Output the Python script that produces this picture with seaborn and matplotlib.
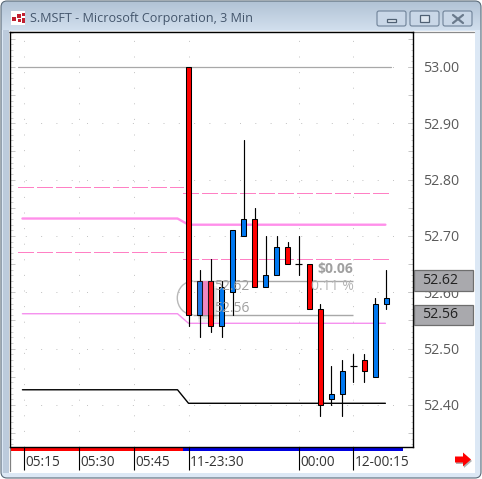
import numpy as np
import pandas as pd
import seaborn as sns
import matplotlib
matplotlib.use("Agg")
import matplotlib.pyplot as plt
from matplotlib.patches import Rectangle, FancyBboxPatch, Arc, Polygon
from matplotlib.ticker import MultipleLocator, FuncFormatter
from matplotlib.transforms import blended_transform_factory, ScaledTranslation

# ---------- data ----------
opens  = [53.00, 52.56, 52.62, 52.54, 52.60, 52.70, 52.73, 52.61, 52.63, 52.68, 52.65, 52.65, 52.57, 52.41, 52.42, 52.47, 52.48, 52.45, 52.58]
closes = [52.56, 52.62, 52.54, 52.61, 52.71, 52.73, 52.61, 52.63, 52.68, 52.65, 52.65, 52.57, 52.40, 52.42, 52.46, 52.47, 52.46, 52.58, 52.59]
highs  = [53.00, 52.64, 52.66, 52.62, 52.71, 52.87, 52.75, 52.70, 52.70, 52.69, 52.70, 52.65, 52.58, 52.47, 52.48, 52.49, 52.49, 52.59, 52.64]
lows   = [52.54, 52.52, 52.53, 52.52, 52.56, 52.70, 52.61, 52.61, 52.63, 52.65, 52.63, 52.57, 52.38, 52.40, 52.38, 52.44, 52.44, 52.45, 52.57]
bars = list(range(len(opens)))

tick_bars = [-15, -10, -5, 0, 10, 15]
tick_labels = ["05:15", "05:30", "05:45", "11-23:30", "00:00", "12-00:15"]

level_gray_x = [-15.5, 18.4];            level_gray_y = [53.00, 53.00]
dash_hi_l_x = [-15.5, -0.5];             dash_hi_l_y = [52.787, 52.787]
dash_hi_r_x = [-0.5, 18.4];              dash_hi_r_y = [52.777, 52.777]
dash_lo_l_x = [-15.5, -0.5];             dash_lo_l_y = [52.672, 52.672]
dash_lo_r_x = [-0.5, 18.4];              dash_lo_r_y = [52.659, 52.659]
upper_x = [-15.1, -1, 0, 17.9];          upper_y = [52.731, 52.731, 52.720, 52.720]
lower_x = [-15.1, -1, 0, 17.9];          lower_y = [52.562, 52.562, 52.545, 52.545]
black_x = [-15.1, -1, 0, 17.9];          black_y = [52.427, 52.427, 52.403, 52.403]

last_high, last_low = 52.62, 52.56
diff_label, pct_label = "$0.06", "0.11 %"

# ---------- figure ----------
sns.set_theme(style="white")
plt.rcParams["font.family"] = ["Open Sans", "DejaVu Sans"]
W, H = 482, 479
fig = plt.figure(figsize=(W / 100, H / 100), dpi=100, facecolor="white")

# window chrome, in pixel coordinates
bg = fig.add_axes([0, 0, 1, 1], zorder=-1)
bg.set_xlim(0, W); bg.set_ylim(H, 0); bg.axis("off")
frame = FancyBboxPatch((1, 1), W - 2, H - 2, boxstyle="round,pad=0,rounding_size=6",
                       fc="none", ec="#5a6a78", lw=0.8, zorder=3)
bg.add_patch(frame)
grad = np.ones((H, 1, 3))
top = np.array([0xb0, 0xc2, 0xd4]) / 255
mid = np.array([0xd2, 0xdf, 0xee]) / 255
low = np.array([0xdc, 0xe8, 0xf5]) / 255
for r in range(H):
    grad[r, 0] = top + (mid - top) * r / 30 if r < 30 else low
im = bg.imshow(grad, extent=(0, W, H, 0), aspect="auto", zorder=1)
im.set_clip_path(frame)
bg.set_xlim(0, W); bg.set_ylim(H, 0)
bg.add_patch(Rectangle((3, 30), 5.5, 443, fc="#bccbdc", ec="none", zorder=1.5))
bg.add_patch(Rectangle((8.5, 31), 466, 442, fc="white", ec="none", zorder=2))
bg.plot([9, 474], [31.5, 31.5], color="#8a8a8a", lw=0.9, zorder=2.5)
bg.plot([9.5, 9.5], [447, 471], color="#808080", lw=0.9, zorder=2.5)

# icon
bg.add_patch(Rectangle((11, 11), 14, 14, fc="white", ec="none", zorder=3))
for ix, iy, iw, ih in [(12, 17, 4, 4), (17, 14, 4, 4), (22, 13, 3, 3), (18, 19, 3, 3), (22, 18, 3, 5)]:
    bg.add_patch(Rectangle((ix, iy), iw, ih, fc="#c02030", ec="none", zorder=4))
bg.text(30, 18.5, "S.MSFT - Microsoft Corporation, 3 Min", fontsize=9.1, color="#44566c",
        va="center", ha="left", zorder=4)

# window buttons
for bx in (377, 410, 443):
    bg.add_patch(FancyBboxPatch((bx, 11), 29, 15, boxstyle="round,pad=0,rounding_size=2",
                                fc="#c9d7e7", ec="#6f8298", lw=0.8, zorder=3))
bg.add_patch(Rectangle((387, 19), 9, 3, fc="#dfe7f0", ec="#4f6073", lw=0.9, zorder=4))
bg.add_patch(Rectangle((420, 15), 9, 7, fc="#dfe7f0", ec="#4f6073", lw=0.9, zorder=4))
bg.plot([453, 463], [15, 23], color="#6a7a8c", lw=1.6, zorder=4)
bg.plot([453, 463], [23, 15], color="#6a7a8c", lw=1.6, zorder=4)

# session strip below the chart
bg.add_patch(Rectangle((11, 447.5), 172, 3, fc="#ff0000", ec="none", zorder=3))
bg.add_patch(Rectangle((183, 447.5), 219.5, 3, fc="#0000e0", ec="none", zorder=3))

# scroll arrow
arrow = [(455, 456.5), (463, 456.5), (463, 452.5), (471, 459.5), (463, 466.5), (463, 462.5), (455, 462.5)]
bg.add_patch(Polygon([(a + 1, b + 1.5) for a, b in arrow], fc="#b0b0b0", ec="none", zorder=3))
bg.add_patch(Polygon(arrow, fc="#ff0000", ec="none", zorder=4))

# chart axes
ax = fig.add_axes([10 / W, 1 - 447 / H, 403 / W, 415 / H], facecolor="white")
ax.set_ylim(52.3254, 53.0621)
ax.set_xlim(-16.23, 20.41)
for s in ax.spines.values():
    s.set_color("black"); s.set_linewidth(1.0); s.set_visible(True)

# dotted grid
DOT = "#c4c4c4"
ax.hlines(np.arange(52.4, 53.01, 0.1), -16.23, 20.41, color=DOT, lw=0.72,
          linestyles=[(0, (1, 14.3))], zorder=0.5)
ax.vlines(tick_bars, 52.3254, 53.0621, color=DOT, lw=0.72,
          linestyles=[(0, (1, 14.6))], zorder=0.5)

# level lines
def level(x, y, color, lw, dashes=None):
    d = pd.DataFrame({"bar": x, "price": y})
    line = sns.lineplot(data=d, x="bar", y="price", ax=ax, color=color, linewidth=lw,
                        estimator=None, sort=False, legend=False, zorder=2).lines[-1]
    if dashes:
        line.set_linestyle((0, dashes))
        line.set_antialiased(False)

PINK = "#ff80c4"
level(level_gray_x, level_gray_y, "#a8a8a8", 0.9)
level(dash_hi_l_x, dash_hi_l_y, PINK, 0.8, (14, 3.2))
level(dash_hi_r_x, dash_hi_r_y, PINK, 0.8, (14, 3.2))
level(dash_lo_l_x, dash_lo_l_y, PINK, 0.8, (14, 3.2))
level(dash_lo_r_x, dash_lo_r_y, PINK, 0.8, (14, 3.2))
level(upper_x, upper_y, "#ff8fea", 1.7)
level(lower_x, lower_y, "#f590ee", 1.0)
level(black_x, black_y, "black", 1.0)

# measurement annotation
GRAY = "#a8a8a8"
ax.hlines([last_high, last_low], 0.43, 15.0, color=GRAY, lw=1.0, zorder=2.2)
ax.add_patch(Arc((0.43, (last_high + last_low) / 2), 2.9, last_high - last_low,
                 theta1=90, theta2=270, color="#b8b8b8", lw=1.0, zorder=2.2))
rx0, rx1 = 0.79, 2.25
for k, a in zip((0.45, 0.3, 0.15), (0.10, 0.10, 0.10)):
    ax.add_patch(Rectangle((rx0 + 0.05, last_low - 0.012 * k / 0.45), rx1 - rx0 + k * 0.85,
                           last_high - last_low, fc="#707070", alpha=a, ec="none", zorder=2.3))
ax.add_patch(Rectangle((rx0, last_low), rx1 - rx0, last_high - last_low, fc="#f088c2",
                       ec="none", zorder=2.4))

# candles
w = pd.DataFrame({"bar": bars * 2, "price": highs + lows})
sns.lineplot(data=w, x="bar", y="price", units="bar", estimator=None, ax=ax, color="black",
             linewidth=0.85, legend=False, zorder=3)
o, c = np.array(opens), np.array(closes)
body = np.abs(c - o) > 0.001
colors = np.where(c > o, "#0078f0", "#ff0000")
ax.bar(np.array(bars)[body], np.abs(c - o)[body], bottom=np.minimum(o, c)[body], width=0.42,
       color=colors[body], edgecolor="black", linewidth=0.75, zorder=3.2)
ax.hlines(o[~body], np.array(bars)[~body] - 0.3, np.array(bars)[~body] + 0.3, color="black",
          lw=0.85, zorder=3.2)
ax.add_patch(Rectangle((rx0, last_low), rx1 - rx0, last_high - last_low, fc="#f088c2",
                       alpha=0.14, ec="none", zorder=3.4))

TXT = "#a0a0a0"
ax.text(2.3, last_high - 0.0105, f"{last_high:.2f}", color=TXT, fontsize=10, va="center", ha="left", zorder=3.5)
ax.text(2.3, last_low + 0.0115, f"{last_low:.2f}", color=TXT, fontsize=10, va="center", ha="left", zorder=3.5)
ax.text(15.0, 52.6405, diff_label, color=TXT, fontsize=10, fontweight="bold", va="center", ha="right", zorder=3.5)
ax.text(15.0, 52.6105, pct_label, color="#b4b4b4", fontsize=10, va="center", ha="right", zorder=3.5)

# axes ticks
ax.set_xlabel(""); ax.set_ylabel("")
ax.yaxis.set_major_locator(MultipleLocator(0.05))
ax.yaxis.set_minor_locator(MultipleLocator(0.01))
ax.yaxis.set_major_formatter(FuncFormatter(lambda v, _: f"{v:.2f}" if abs(v * 10 - round(v * 10)) < 1e-6 else ""))
ax.yaxis.tick_right()
ax.tick_params(axis="y", which="major", direction="in", length=3.6, width=0.72, color="#c8c8c8",
               left=True, right=True, labelleft=False, labelright=True, labelsize=10.2,
               labelcolor="#5a5a5a", pad=7.6)
ax.tick_params(axis="y", which="minor", direction="in", length=1.8, width=0.72, color="#d0d0d0",
               left=True, right=True)
ax.set_xticks(tick_bars)
ax.set_xticklabels(tick_labels)
ax.tick_params(axis="x", which="major", direction="out", length=16.6, width=0.8, color="black",
               bottom=True, labelsize=9.8, labelcolor="#333333", pad=-10.6)
off = ScaledTranslation(1.5 / 100, 0, fig.dpi_scale_trans)
for t in ax.get_xticklabels():
    t.set_ha("left")
    t.set_transform(t.get_transform() + off)

# last-price boxes on the scale
tr = blended_transform_factory(ax.transAxes, ax.transData)
for val, lo, hi in [(last_high, 52.602, 52.640), (last_low, 52.542, 52.578)]:
    ax.add_patch(Rectangle((1.0025, lo), 0.146, hi - lo, transform=tr, clip_on=False, fc="#a9a9ad",
                           ec="#6e6e6e", lw=0.9, zorder=5))
    ax.text(1.0225, (lo + hi) / 2, f"{val:.2f}", transform=tr, clip_on=False, fontsize=10.2,
            color="#222222", va="center", ha="left", zorder=6)

fig.savefig("out.png", dpi=100, facecolor="white")
